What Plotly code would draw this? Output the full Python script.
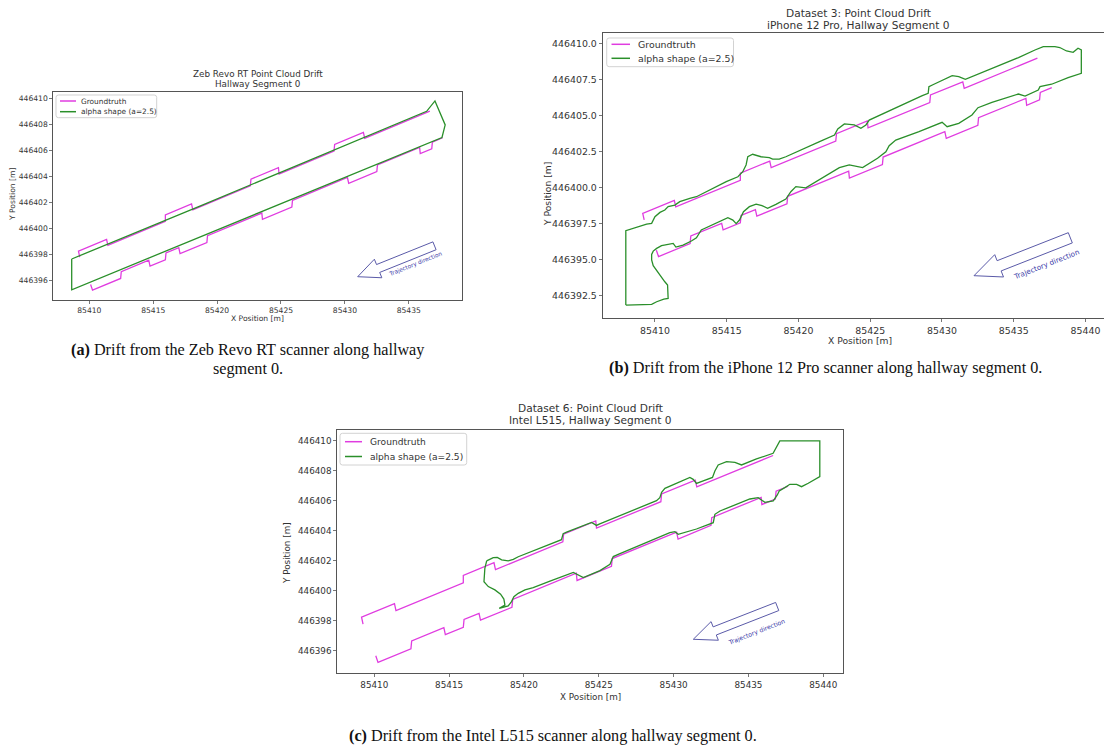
import math
import plotly.graph_objects as go

# the page's default 8px body margin is removed after plotting (see write_html below)
OFF = 0
FW, FH = 1104 - OFF, 756 - OFF

# ---------------- data ----------------
# Ground truth hallway walls (same for all three datasets)
gt_upper_x = [85409.25, 85409.15, 85411.35, 85411.45, 85415.95, 85415.95, 85418.0, 85418.1,
              85422.6, 85422.65, 85424.8, 85424.85, 85429.15, 85429.2, 85431.45, 85431.55, 85436.65]
gt_upper_y = [446397.77, 446398.23, 446399.13, 446398.67, 446400.52, 446401.02, 446401.86, 446401.40,
              446403.25, 446403.77, 446404.65, 446404.17, 446405.93, 446406.45, 446407.37, 446406.92, 446409.01]
gt_lower_x = [85410.1, 85410.25, 85412.45, 85412.5, 85414.65, 85414.75, 85415.95, 85416.0, 85417.0,
              85417.1, 85419.2, 85419.25, 85423.5, 85423.55, 85425.85, 85425.9, 85430.2, 85430.3,
              85432.5, 85432.55, 85435.85, 85435.9, 85436.8, 85436.85, 85437.65]
gt_lower_y = [446395.66, 446395.22, 446396.12, 446396.65, 446397.53, 446397.07, 446397.56, 446398.08,
              446398.49, 446398.03, 446398.89, 446399.41, 446401.16, 446400.68, 446401.62, 446402.14,
              446403.90, 446403.44, 446404.35, 446404.87, 446406.22, 446405.74, 446406.11, 446406.63,
              446406.96]

# Alpha shape (a=2.5) outline, Zeb Revo RT
zeb_x = [85408.62, 85418.3, 85418.7, 85436.4, 85437.05, 85437.85, 85437.6, 85408.62, 85408.62]
zeb_y = [446397.62, 446401.52, 446401.72, 446409.0, 446409.8, 446407.95, 446406.98, 446395.25, 446397.62]

# Alpha shape (a=2.5) outline, iPhone 12 Pro
iph_x = [85407.97, 85408.96, 85409.77, 85410.12, 85410.62, 85410.92, 85410.88, 85410.69, 85410.46,
         85410.16, 85409.88, 85409.77, 85409.77, 85409.88, 85410.12, 85410.46, 85410.92, 85411.27,
         85411.46, 85411.96, 85412.54, 85412.89, 85413.23, 85413.70, 85414.50, 85415.08, 85415.43,
         85415.66, 85415.89, 85416.17, 85416.58, 85417.05, 85417.46, 85417.85, 85418.43, 85419.12,
         85419.47, 85419.82, 85420.51, 85422.85, 85423.54, 85424.24, 85424.47, 85425.51, 85426.09,
         85426.32, 85426.78, 85428.40, 85430.01, 85430.36, 85431.17, 85432.09, 85432.51, 85433.48,
         85434.75, 85435.33, 85435.79, 85436.25, 85436.71, 85436.83, 85437.64, 85438.79, 85439.71,
         85439.71, 85439.48, 85439.14, 85438.68, 85438.21, 85437.87, 85437.06, 85436.48, 85435.33,
         85433.94, 85431.63, 85431.17, 85430.71, 85429.44, 85429.09, 85429.04, 85428.63, 85424.93,
         85424.70, 85424.35, 85423.89, 85423.20, 85422.74, 85422.51, 85421.93, 85421.47, 85419.12,
         85418.66, 85418.20, 85417.97, 85417.39, 85416.81, 85416.47, 85416.35, 85416.12, 85415.78,
         85414.97, 85412.89, 85412.43, 85412.08, 85411.73, 85411.39, 85410.92, 85410.69, 85410.35,
         85410.00, 85409.77, 85409.42, 85408.96, 85408.38, 85407.97, 85407.97]
iph_y = [446391.85, 446391.85, 446391.90, 446392.08, 446392.27, 446392.31, 446393.24, 446393.47, 446393.77,
         446394.17, 446394.59, 446394.98, 446395.37, 446395.60, 446395.79, 446395.98, 446396.09, 446396.14,
         446395.88, 446396.02, 446396.30, 446396.53, 446397.07, 446397.30, 446397.64, 446397.92, 446397.76,
         446397.51, 446397.76, 446398.34, 446398.69, 446398.87, 446398.76, 446398.57, 446398.85, 446399.22,
         446399.73, 446400.08, 446400.00, 446401.40, 446401.59, 446401.47, 446401.40, 446402.05, 446402.51,
         446402.93, 446403.32, 446403.90, 446404.55, 446404.25, 446404.48, 446405.06, 446405.57, 446405.94,
         446406.34, 446406.52, 446406.38, 446406.57, 446406.80, 446407.03, 446407.20, 446407.66, 446407.96,
         446409.58, 446409.70, 446409.42, 446409.51, 446409.75, 446409.81, 446409.81, 446409.58, 446409.05,
         446408.49, 446407.54, 446407.73, 446407.80, 446407.20, 446407.03, 446406.57, 446406.41, 446404.71,
         446404.37, 446404.14, 446404.37, 446404.44, 446404.09, 446403.67, 446403.44, 446403.21, 446402.16,
         446402.00, 446402.00, 446402.10, 446402.16, 446402.33, 446402.16, 446401.59, 446401.12, 446400.77,
         446400.43, 446399.38, 446399.27, 446399.15, 446399.04, 446398.80, 446398.69, 446398.46, 446398.29,
         446397.99, 446397.53, 446397.48, 446397.34, 446397.18, 446397.02, 446391.85]

# Alpha shape (a=2.5) outline, Intel L515
intel_x = [85417.51, 85417.95, 85418.22, 85418.51, 85418.95, 85419.29, 85419.62, 85421.74, 85422.51,
           85422.62, 85422.85, 85424.52, 85424.85, 85425.07, 85428.86, 85429.08, 85429.20, 85429.42,
           85431.09, 85431.31, 85431.53, 85431.98, 85432.60, 85432.76, 85432.98, 85433.54, 85434.10,
           85434.54, 85435.54, 85436.65, 85436.87, 85437.10, 85439.77, 85439.77, 85439.00, 85438.55,
           85438.22, 85437.77, 85437.43, 85437.06, 85436.93, 85436.66, 85436.10, 85435.65, 85435.10,
           85433.10, 85432.76, 85432.65, 85431.53, 85430.31, 85430.09, 85429.75, 85426.30, 85425.97,
           85425.75, 85425.08, 85423.97, 85423.63, 85423.30, 85421.74, 85420.62, 85420.07, 85419.62,
           85419.33, 85419.17, 85418.95, 85418.35, 85418.73, 85418.66, 85418.44, 85418.06, 85417.62,
           85417.33, 85417.39, 85417.51]
intel_y = [446401.98, 446402.20, 446402.22, 446402.05, 446401.98, 446402.09, 446402.26, 446403.10, 446403.40,
           446403.80, 446403.90, 446404.55, 446404.35, 446404.45, 446406.00, 446406.20, 446406.55, 446406.82,
           446407.55, 446407.42, 446407.15, 446407.32, 446407.55, 446407.98, 446408.38, 446408.60, 446408.55,
           446408.38, 446408.78, 446409.16, 446409.60, 446409.98, 446409.98, 446407.60, 446407.16, 446406.93,
           446407.09, 446407.09, 446406.87, 446406.65, 446406.38, 446405.98, 446405.89, 446406.20, 446406.11,
           446405.31, 446405.09, 446404.53, 446404.11, 446403.76, 446403.93, 446403.87, 446402.42, 446402.27,
           446401.76, 446401.34, 446400.87, 446401.05, 446401.22, 446400.64, 446400.20, 446400.05, 446399.82,
           446399.60, 446399.27, 446398.98, 446398.82, 446399.04, 446399.44, 446399.76, 446400.05, 446400.27,
           446400.60, 446401.49, 446401.98]

# ticks
a_xticks = [85410, 85415, 85420, 85425, 85430, 85435]
a_yticks = [446396, 446398, 446400, 446402, 446404, 446406, 446408, 446410]
b_xticks = [85410, 85415, 85420, 85425, 85430, 85435, 85440]
b_yticks = [446392.5, 446395.0, 446397.5, 446400.0, 446402.5, 446405.0, 446407.5, 446410.0]
c_xticks = [85410, 85415, 85420, 85425, 85430, 85435, 85440]
c_yticks = [446396, 446398, 446400, 446402, 446404, 446406, 446408, 446410]

legend_labels = ["Groundtruth", "alpha shape (a=2.5)"]

# ---------------- styling ----------------
MAGENTA = "#e03ce0"
GREEN = "#2a8f2a"
AXCOL = "#555555"
TXT = "#333333"
ARROW = "#5a5aa8"
FONT = "DejaVu Sans"


def px(x):
    return (x - OFF) / FW


def py(y):
    return 1 - (y - OFF) / FH


panels = [
    dict(xd=(53.3, 462.3), yd=(91.7, 300.0), xr=(85407.18, 85439.19), yr=(446394.46, 446410.51),
         xt=a_xticks, yt=a_yticks, yfmt=".0f", tick=7.6, alpha=(zeb_x, zeb_y), mirror_y=True,
         leg=dict(box=(56.0, 95.0, 156.7, 117.7), rows=(101.0, 111.7), line=(60.0, 76.0), tx=80.0, fs=7.4)),
    dict(xd=(602.7, 1104.0), yd=(33.3, 318.3), xr=(85406.36, 85441.29), yr=(446390.93, 446410.74),
         xt=b_xticks, yt=b_yticks, yfmt=".1f", tick=9.4, alpha=(iph_x, iph_y), mirror_y=False,
         leg=dict(box=(606.7, 38.0, 733.5, 66.7), rows=(44.3, 58.3), line=(611.5, 630.0), tx=636.5, fs=9.4)),
    dict(xd=(337.3, 843.3), yd=(430.0, 673.0), xr=(85407.53, 85441.34), yr=(446394.51, 446410.71),
         xt=c_xticks, yt=c_yticks, yfmt=".0f", tick=8.8, alpha=(intel_x, intel_y), mirror_y=True,
         leg=dict(box=(340.0, 433.3, 466.7, 465.0), rows=(441.7, 456.5), line=(345.0, 362.0), tx=369.0, fs=9.1)),
]

fig = go.Figure()
layout = dict(width=FW, height=FH, margin=dict(l=0, r=0, t=0, b=0), paper_bgcolor="white",
              plot_bgcolor="white", font=dict(family=FONT, color=TXT), annotations=[], shapes=[],
              showlegend=False, hovermode=False)


def ann(text, x, y, size, angle=0, color=TXT, family=FONT, xanchor="center"):
    layout["annotations"].append(dict(text=text, x=px(x), y=py(y), xref="paper", yref="paper",
                                      showarrow=False, font=dict(size=size, family=family, color=color),
                                      textangle=angle, xanchor=xanchor, yanchor="middle", borderpad=0))


def rounded_rect(x0, y0, x1, y1, r):
    X0, X1, Y0, Y1 = px(x0), px(x1), py(y0), py(y1)
    rx, ry = r / FW, r / FH
    return (f"M {X0 + rx:.5f},{Y0:.5f} L {X1 - rx:.5f},{Y0:.5f} Q {X1:.5f},{Y0:.5f} {X1:.5f},{Y0 - ry:.5f} "
            f"L {X1:.5f},{Y1 + ry:.5f} Q {X1:.5f},{Y1:.5f} {X1 - rx:.5f},{Y1:.5f} "
            f"L {X0 + rx:.5f},{Y1:.5f} Q {X0:.5f},{Y1:.5f} {X0:.5f},{Y1 + ry:.5f} "
            f"L {X0:.5f},{Y0 - ry:.5f} Q {X0:.5f},{Y0:.5f} {X0 + rx:.5f},{Y0:.5f} Z")


for i, p in enumerate(panels):
    k = "" if i == 0 else str(i + 1)
    xa, ya = "x" + k, "y" + k
    fig.add_trace(go.Scatter(x=gt_upper_x, y=gt_upper_y, mode="lines", name=legend_labels[0],
                             line=dict(color=MAGENTA, width=1.3), xaxis=xa, yaxis=ya))
    fig.add_trace(go.Scatter(x=gt_lower_x, y=gt_lower_y, mode="lines", name=legend_labels[0],
                             line=dict(color=MAGENTA, width=1.3), xaxis=xa, yaxis=ya))
    fig.add_trace(go.Scatter(x=p["alpha"][0], y=p["alpha"][1], mode="lines", name=legend_labels[1],
                             line=dict(color=GREEN, width=1.3), xaxis=xa, yaxis=ya))
    axcommon = dict(showgrid=False, zeroline=False, showline=True, linecolor=AXCOL, linewidth=1,
                    ticks="outside", ticklen=3, tickwidth=0.8, tickcolor=AXCOL,
                    tickfont=dict(size=p["tick"], family=FONT, color=TXT))
    layout["xaxis" + k] = dict(domain=[max(0, px(p["xd"][0])), min(1, px(p["xd"][1]))], range=list(p["xr"]),
                               anchor=ya, tickvals=p["xt"], tickformat=".0f", mirror=True, **axcommon)
    layout["yaxis" + k] = dict(domain=[py(p["yd"][1]), py(p["yd"][0])], range=list(p["yr"]),
                               anchor=xa, tickvals=p["yt"], tickformat=p["yfmt"], mirror=p["mirror_y"],
                               **axcommon)
    # legend drawn in the upper-left corner of each panel
    lg = p["leg"]
    bx0, by0, bx1, by1 = lg["box"]
    layout["shapes"].append(dict(type="path", path=rounded_rect(bx0, by0, bx1, by1, 2.5), xref="paper",
                                 yref="paper", line=dict(color="#d2d2d2", width=1),
                                 fillcolor="rgba(255,255,255,0.85)"))
    for row_y, col, lab in zip(lg["rows"], [MAGENTA, GREEN], legend_labels):
        layout["shapes"].append(dict(type="line", x0=px(lg["line"][0]), x1=px(lg["line"][1]), y0=py(row_y),
                                     y1=py(row_y), xref="paper", yref="paper", line=dict(color=col, width=1.5)))
        ann(lab, lg["tx"], row_y, lg["fs"], xanchor="left")

# titles
ann("Zeb Revo RT Point Cloud Drift", 257.8, 74.5, 8.8)
ann("Hallway Segment 0", 257.8, 84.5, 8.8)
ann("Dataset 3: Point Cloud Drift", 858.7, 13.0, 10.6)
ann("iPhone 12 Pro, Hallway Segment 0", 858.7, 25.3, 10.6)
ann("Dataset 6: Point Cloud Drift", 590.5, 408.0, 10.6)
ann("Intel L515, Hallway Segment 0", 590.5, 420.5, 10.6)

# axis labels
ann("X Position [m]", 257.8, 318.0, 7.6)
ann("Y Position [m]", 13.0, 195.0, 7.6, angle=-90)
ann("X Position [m]", 860.0, 340.0, 9.2)
ann("Y Position [m]", 547.0, 194.0, 9.2, angle=-90)
ann("X Position [m]", 590.3, 697.0, 8.8)
ann("Y Position [m]", 287.0, 553.0, 8.8, angle=-90)

# captions
SERIF = "Liberation Serif"
CAP = 16.2
ann("<b>(a)</b> Drift from the Zeb Revo RT scanner along hallway", 248.0, 350.0, CAP, color="#111", family=SERIF)
ann("segment 0.", 248.0, 369.0, CAP, color="#111", family=SERIF)
ann("<b>(b)</b> Drift from the iPhone 12 Pro scanner along hallway segment 0.", 825.0, 368.0, CAP,
    color="#111", family=SERIF)
ann("<b>(c)</b> Drift from the Intel L515 scanner along hallway segment 0.", 552.5, 735.5, CAP,
    color="#111", family=SERIF)


# "Trajectory direction" hollow arrows
def arrow_path(tip, tail, w, hw, hl):
    (tx, ty), (sx, sy) = tip, tail
    dx, dy = tx - sx, ty - sy
    L = math.hypot(dx, dy)
    ux, uy = dx / L, dy / L
    nx, ny = -uy, ux
    nkx, nky = tx - ux * hl, ty - uy * hl
    pts = [(sx + nx * w / 2, sy + ny * w / 2), (nkx + nx * w / 2, nky + ny * w / 2),
           (nkx + nx * hw / 2, nky + ny * hw / 2), (tx, ty),
           (nkx - nx * hw / 2, nky - ny * hw / 2), (nkx - nx * w / 2, nky - ny * w / 2),
           (sx - nx * w / 2, sy - ny * w / 2)]
    return "M " + " L ".join(f"{px(a):.5f},{py(b):.5f}" for a, b in pts) + " Z"


arrows = [
    dict(tip=(357.7, 276.7), tail=(434.5, 245.8), w=8.5, hw=20, hl=22, txt=(415.0, 264.5), fs=5.8),
    dict(tip=(974.0, 275.7), tail=(1070.3, 237.8), w=11.0, hw=24, hl=27, txt=(1046.0, 264.0), fs=7.2),
    dict(tip=(693.3, 639.3), tail=(777.2, 606.5), w=8.7, hw=20, hl=23, txt=(756.7, 631.5), fs=6.2),
]
for a in arrows:
    layout["shapes"].append(dict(type="path", path=arrow_path(a["tip"], a["tail"], a["w"], a["hw"], a["hl"]),
                                 xref="paper", yref="paper", line=dict(color=ARROW, width=1),
                                 fillcolor="rgba(0,0,0,0)"))
    ang = math.degrees(math.atan2(a["tail"][1] - a["tip"][1], a["tail"][0] - a["tip"][0]))
    ann("Trajectory direction", a["txt"][0], a["txt"][1], a["fs"], angle=ang, color="#3a3aa8")

fig.update_layout(**layout)
fig.write_html("out.html", config={"displayModeBar": False, "staticPlot": True},
               post_script="document.body.style.margin='0px'; document.body.style.overflow='hidden';")
